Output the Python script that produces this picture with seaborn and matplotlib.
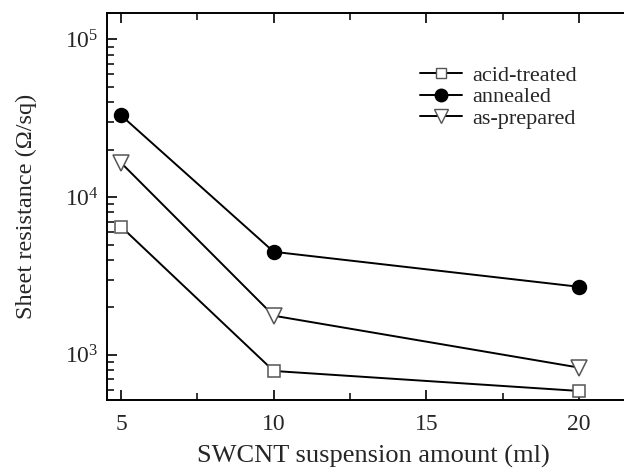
import matplotlib
matplotlib.use("Agg")
import matplotlib.pyplot as plt
import seaborn as sns
import pandas as pd
import numpy as np
from matplotlib.ticker import NullFormatter, FixedLocator, LogFormatterSciNotation
from matplotlib.lines import Line2D

amount = [5, 10, 20]
acid_treated = [6500, 790, 590]
annealed = [33000, 4500, 2700]
as_prepared = [16500, 1770, 830]
series_names = ["acid-treated", "annealed", "as-prepared"]

df = pd.DataFrame({
    "amount": amount * 3,
    "R": acid_treated + annealed + as_prepared,
    "series": sum([[n] * 3 for n in series_names], []),
})

sns.set_theme(style="ticks")
plt.rcParams["font.family"] = ["Liberation Serif", "DejaVu Serif"]
plt.rcParams["mathtext.fontset"] = "stix"

fig = plt.figure(figsize=(6.24, 4.68), dpi=100)
ax = fig.add_axes([107/624, 1 - 400/468, (640 - 107)/624, (400 - 13)/468])

markers = {"acid-treated": "s", "annealed": "o", "as-prepared": "v"}
mfc = {"acid-treated": "white", "annealed": "black", "as-prepared": "white"}
msize = {"acid-treated": 8.5, "annealed": 10, "as-prepared": 11}

for name in series_names:
    sub = df[df.series == name]
    sns.lineplot(data=sub, x="amount", y="R", ax=ax, color="black", lw=1.4,
                 marker=markers[name], markersize=msize[name],
                 markerfacecolor=mfc[name],
                 markeredgecolor="black" if name == "annealed" else "#555555",
                 markeredgewidth=1.1, label=name, legend=False)

ax.set_yscale("log")
ax.set_xlim(4.54, 22.0)
ax.set_ylim(517, 1.47e5)

ax.xaxis.set_major_locator(FixedLocator([5, 10, 15, 20]))
ax.xaxis.set_minor_locator(FixedLocator([7.5, 12.5, 17.5]))
ax.yaxis.set_major_locator(FixedLocator([1e3, 1e4, 1e5]))
ax.yaxis.set_major_formatter(LogFormatterSciNotation())
minor_y = [m * 10.0 ** e for e in (2, 3, 4, 5) for m in range(2, 10)]
ax.yaxis.set_minor_locator(FixedLocator(minor_y))
ax.yaxis.set_minor_formatter(NullFormatter())

ax.tick_params(axis="both", which="both", direction="in", top=True, right=False,
               labelsize=17, width=1.2, color="black")
ax.tick_params(axis="both", which="major", length=7)
ax.tick_params(axis="both", which="minor", length=5, width=1.1)
ax.tick_params(axis="x", pad=10)
ax.tick_params(axis="y", pad=6)
ax.set_ylim(517, 1.47e5)

for s in ax.spines.values():
    s.set_linewidth(1.4)
    s.set_color("black")

ax.set_xlabel("SWCNT suspension amount (ml)", fontsize=19, labelpad=7)
ax.set_ylabel("Sheet resistance (\u03a9/sq)", fontsize=17.5, labelpad=20)

handles = []
for name in series_names:
    handles.append(Line2D([], [], color="black", lw=1.4, marker=markers[name],
                          markersize=msize[name] - 1, markerfacecolor=mfc[name],
                          markeredgecolor="black" if name == "annealed" else "#555555"))
leg = ax.legend(handles, series_names, loc="upper left",
                bbox_to_anchor=((409 - 107) / 533, 1 - (54 - 13) / 387),
                frameon=False, fontsize=16, handlelength=1.9, handletextpad=0.45,
                labelspacing=0.05, borderpad=0)

fig.savefig("out.png", dpi=100)
